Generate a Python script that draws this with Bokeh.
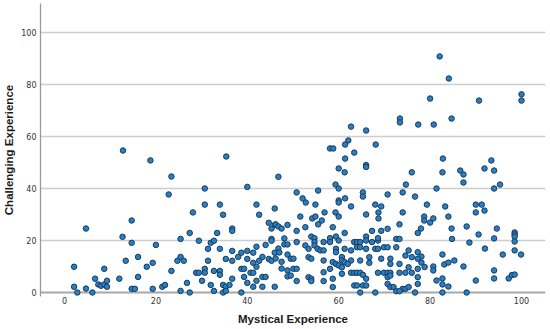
from bokeh.plotting import figure
from bokeh.models import Range1d, FixedTicker, Span, ColumnDataSource
from bokeh.embed import file_html
from bokeh.resources import INLINE

# Upper, sparse region
upper_x = [82.1, 84.1, 80.0, 90.7, 100, 100, 73.4, 73.4, 77.4, 80.8, 84.7, 62.7, 66.0, 62.1, 61.4, 68.1,
           58.1, 58.8, 63.4, 61.4, 82.8, 93.4, 66.0, 12.8, 18.8, 35.4]
upper_y = [90.8, 82.3, 74.6, 73.8, 76.2, 73.8, 66.9, 65.4, 64.6, 64.6, 66.9, 63.8, 62.3, 58.5, 56.9, 56.9,
           55.4, 55.4, 53.8, 51.5, 51.5, 50.8, 49.0, 54.6, 50.8, 52.3]

# Left half, lower region
left_x = [2.1, 2.1, 2.8, 4.7, 4.7, 6.1, 6.7, 7.4, 8.0, 8.7, 8.7, 9.3, 9.3, 12.0, 12.7, 13.4, 14.7, 14.7, 14.7,
          15.4, 16.1, 16.1, 18.0, 19.3, 19.3, 20.0, 21.4, 22.0, 22.8, 23.4, 23.4, 24.7, 25.4, 25.4, 25.4, 26.1,
          26.8, 27.4, 27.4, 28.1, 28.8, 29.4, 29.4, 30.1, 30.7, 30.7, 30.7, 30.7, 31.4, 31.4, 32.0, 32.0, 32.7,
          32.7, 32.7, 33.4, 34.0, 34.0, 34.0, 34.0, 34.7, 34.7, 34.7, 35.3, 35.3, 35.3, 36.1, 36.7, 36.7, 36.7,
          36.7, 36.7, 38.0, 38.7, 38.7, 38.7, 39.3, 39.3, 40.0, 40.0, 40.0, 40.0, 40.7, 41.3, 41.3, 41.3, 41.3,
          42.0, 42.0, 42.0, 42.0, 42.6, 42.6, 43.3, 43.3, 43.3, 44.0, 44.0, 44.7, 44.7, 45.3, 45.3, 45.3, 45.3,
          46.0, 46.0, 46.0, 46.0]
left_y = [9.9, 2.2, 0, 24.6, 1.5, 0, 5.3, 3.1, 2.6, 9.1, 3.1, 4.5, 2.2, 5.3, 21.4, 12.2, 27.7, 19.1, 1.4,
          1.4, 13.7, 6.0, 9.9, 11.4, 1.4, 18.3, 2.2, 2.9, 37.7, 44.6, 8.3, 12.2, 20.6, 13.7, 0.6, 12.2,
          3.7, 22.9, 0, 30.8, 7.6, 19.9, 7.6, 4.5, 40.0, 33.8, 9.1, 7.6, 12.2, 16.8, 19.1, 2.9, 19.9,
          8.3, 0.6, 22.9, 33.8, 16.8, 8.3, 6.8, 29.9, 2.9, 0, 12.9, 2.2, 0.6, 2.9, 24.6, 23.7, 16.0,
          12.2, 5.3, 13.7, 15.3, 9.1, 0, 9.1, 6.0, 40.6, 16.0, 12.9, 3.7, 7.6, 15.3, 11.4, 7.6, 2.2,
          33.8, 17.6, 9.9, 4.5, 29.9, 12.2, 13.7, 6.0, 2.2, 6.0, 18.3, 26.8, 12.9, 24.6, 20.6, 19.9, 12.2,
          32.3, 26.0, 15.3, 2.2]

# Right half, middle/upper band
right_x = [46.8, 60, 61.3, 66, 76, 82.7, 86.6, 87.3, 91.9, 94.0, 87.3, 94.0, 95.3, 74.7, 81.4, 59.3, 60,
           55.5, 50.8, 52.1, 52.8, 60, 60, 61.4, 65.3, 65.3, 70.7, 74, 76.7, 54.9, 62.7, 68, 69.3, 79.3,
           83.3, 90, 91.3, 90, 91.9, 59.3, 60, 56.9, 54.2, 54.9, 51.6, 56.3, 48.8, 55.5, 66, 68.7, 68.7,
           74, 73.3, 78.7, 78.7, 80, 80.7, 84, 46.2,
           84.7, 88.0, 94.6, 78.0, 46.8, 47.5, 48.1, 48.1, 48.8, 88.6, 90.6, 94.0, 92.0, 98.5, 98.5, 98.5,
           98.5, 98.5, 95.9, 99.9, 82.7, 46.8, 47.0, 48.8, 46.2, 47.5, 78.1, 78.1, 80.7, 80.7, 83.1, 84,
           85.3, 87.3, 94.0, 94.0, 97.2, 97.9, 98.5, 90.0, 82.7, 81.4, 47.5, 48.8, 48.8, 82.7, 84, 82.7,
           88, 84.8, 78.8]
right_y = [44.5, 47.7, 46.2, 48.3, 46.2, 46.2, 46.9, 45.4, 47.7, 46.9, 42.3, 40, 41.5, 41.5, 40, 41.5, 40,
           39.2, 38.5, 36.2, 34.6, 35.4, 34.6, 36.2, 38.5, 36.9, 37.7, 38.5, 36.9, 33.8, 33.1, 33.8, 33.1,
           33.8, 33.1, 33.8, 33.8, 30.8, 31.5, 30.8, 29.2, 30.8, 28.5, 29.2, 29.2, 27.7, 26.0, 26.2, 30,
           30.8, 28.5, 30.8, 26.2, 29.2, 27.7, 26.9, 28.5, 29.2, 26.2,
           24.6, 25.4, 24.6, 24.6, 25.4, 24.6, 20.8, 18.5, 18.5, 19.2, 22.3, 20.8, 16.9, 23.1, 22.3, 21.5,
           19.6, 16.2, 14.6, 14.6, 14.6, 16.9, 15.4, 14.6, 13.1, 11.8, 13.8, 11.5, 10, 8.5, 10.8, 11.5,
           12.3, 10, 8.5, 5.4, 5.4, 6.7, 6.9, 4.6, 5.4, 4.6, 9.2, 8.5, 6.2, 3.1, 2.3, 0, 0, 20.6, 9.8]

# Dense central cluster
core_x = [50.8, 52.7, 58.7, 61.3, 67.3, 69.3, 70.7,
          54.0, 54.7, 50.8, 54.7, 56.7, 58.1, 59.4, 60.0, 58.1, 63.4, 64.0, 64.7, 66.0, 66.0, 67.3, 68.6,
          68.6, 72.6, 73.3, 77.3,
          52.7, 53.4, 54.7, 55.4, 56.0, 56.7, 59.4, 59.4, 61.3, 62.7, 64.0, 64.7, 66.0, 68.0, 68.6, 69.9,
          70.7, 72.6, 75.3, 77.3,
          49.5, 50.1, 53.4, 54.0, 56.7, 58.7, 59.4, 60.7, 60.7, 61.3, 62.7, 64.7, 66.7, 66.7, 69.3, 71.3,
          71.3, 73.3, 74.6, 76.0, 77.3, 62.0, 60.0, 58.1, 60.7,
          50.1, 50.8, 49.5, 53.4, 54.0, 56.7, 58.7, 60.7, 62.7, 63.4, 64.0, 64.7, 65.3, 66.0, 68.6, 69.9,
          70.7, 71.3, 70.7, 71.3, 73.3, 74.6, 76.0, 77.3, 75.3, 77.3,
          50.8, 54.0, 56.7, 58.7, 63.4, 64.0, 65.3, 66.0, 70.7, 71.3, 72.0, 74.0, 74.6, 72.6, 73.3, 75.3,
          77.3, 64.7, 68.0, 76.7]
core_y = [23.7, 25.1, 25.1, 22.9, 23.7, 23.7, 24.5,
          21.5, 20.9, 19.4, 19.4, 19.4, 20.9, 21.5, 20.0, 19.4, 19.4, 19.4, 19.4, 21.5, 20.0, 19.4, 20.0,
          20.9, 20.6, 20.6, 22.9,
          18.1, 16.8, 18.1, 16.8, 16.2, 16.2, 16.8, 15.5, 16.8, 16.2, 17.4, 17.4, 16.8, 16.8, 16.8, 17.4,
          17.4, 17.4, 16.2, 15.5,
          13.0, 13.0, 13.6, 13.0, 12.3, 11.7, 11.0, 13.6, 12.3, 11.7, 12.3, 12.3, 13.6, 11.4, 13.0, 13.0,
          11.0, 11.0, 14.2, 13.6, 13.0, 11.0, 10.4, 9.1, 9.7,
          9.1, 9.1, 6.5, 5.9, 5.3, 7.8, 5.3, 7.2, 7.6, 7.6, 7.6, 7.6, 6.8, 5.3, 7.6, 7.6,
          7.6, 7.6, 5.9, 6.5, 7.6, 7.6, 7.6, 9.1, 9.7, 5.9,
          4.4, 4.4, 4.4, 2.1, 2.7, 2.7, 2.7, 2.7, 3.3, 2.1, 2.1, 1.4, 1.4, 0.5, 0.5, 2.1,
          3.3, 0, 0, 0]

mystical = upper_x + left_x + right_x + core_x
challenging = upper_y + left_y + right_y + core_y

x_ticks = [0, 20, 40, 60, 80, 100]
y_ticks = [0, 20, 40, 60, 80, 100]

source = ColumnDataSource(data=dict(x=mystical, y=challenging))

p = figure(width=550, height=329, output_backend="svg", toolbar_location=None,
           x_range=Range1d(-5.25, 105.25), y_range=Range1d(-1.54, 111.15),
           min_border_left=40, min_border_right=5, min_border_top=3, min_border_bottom=33)
p.title.visible = False
p.outline_line_color = None
p.background_fill_color = "white"
p.border_fill_color = "white"

p.xgrid.visible = False
p.ygrid.ticker = FixedTicker(ticks=[20, 40, 60, 80, 100])
p.ygrid.grid_line_color = "#cdcdcd"
p.ygrid.grid_line_width = 1.3

for ax, ticks in ((p.xaxis, x_ticks), (p.yaxis, y_ticks)):
    ax.ticker = FixedTicker(ticks=ticks)
    ax.major_tick_out = 0
    ax.major_tick_in = 0
    ax.minor_tick_out = 0
    ax.minor_tick_in = 0
    ax.major_label_text_font = "DejaVu Sans"
    ax.major_label_text_font_size = "8px"
    ax.major_label_text_color = "#333333"
    ax.axis_label_text_font = "Liberation Sans"
    ax.axis_label_text_font_style = "bold"
    ax.axis_label_text_font_size = "11.5px"
    ax.axis_label_text_color = "#1a1a1a"

p.xaxis.axis_label = "Mystical Experience"
p.yaxis.axis_label = "Challenging Experience"
p.xaxis.axis_line_color = None
p.xaxis.major_label_standoff = 0
p.xaxis.axis_label_standoff = 6
p.yaxis.axis_line_color = "#9a9a9a"
p.yaxis.axis_line_width = 1.3
p.yaxis.major_label_standoff = 4
p.yaxis.axis_label_standoff = 3

p.add_layout(Span(location=0, dimension="width", line_color="#a8a8a8", line_width=2, level="underlay"))

p.scatter("x", "y", source=source, size=5.5, fill_color="#2b7fc0", line_color="#163a5e", line_width=1)

open("out.html", "w").write(file_html(p, INLINE))
